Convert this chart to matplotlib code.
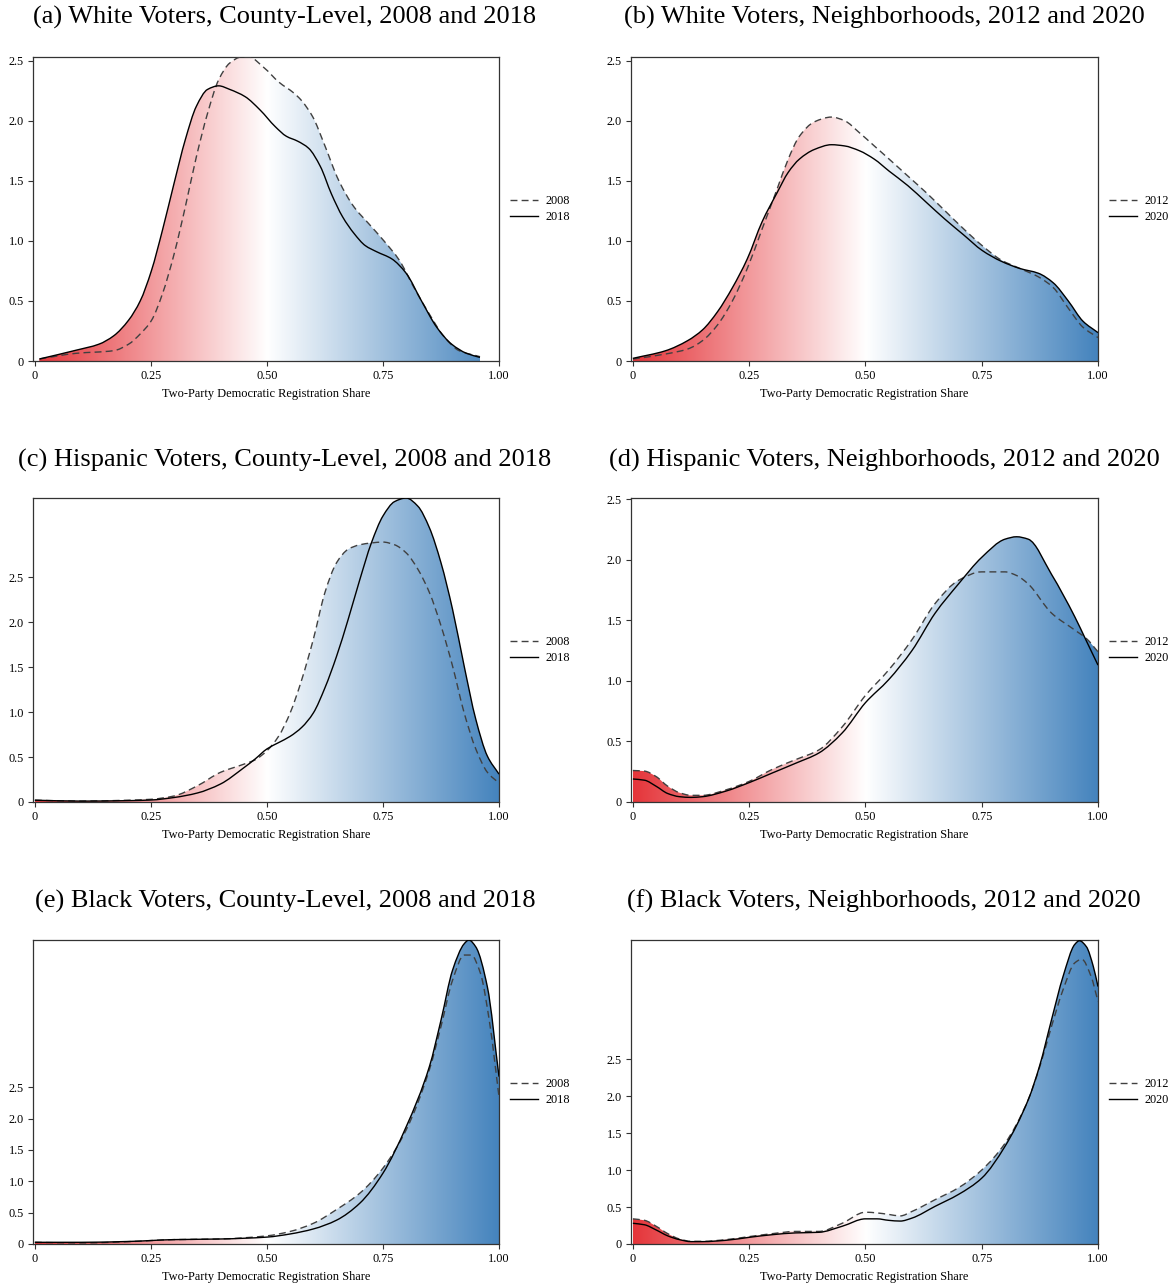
import numpy as np
import matplotlib
matplotlib.use("Agg")
import matplotlib.pyplot as plt
from matplotlib.colors import LinearSegmentedColormap
from matplotlib.path import Path
from matplotlib.patches import PathPatch
from matplotlib.lines import Line2D

plt.rcParams["font.family"] = ["Liberation Serif", "DejaVu Serif"]

### data (x = two-party Dem share, y = density)

# (a) white, county 2008 / 2018
a_x08 = [0.01, 0.089, 0.17, 0.202, 0.227, 0.251, 0.275, 0.30, 0.324, 0.348, 0.372, 0.396, 0.42, 0.445,
         0.461, 0.494, 0.526, 0.558, 0.574, 0.599, 0.623, 0.655, 0.688, 0.72, 0.752, 0.785, 0.817, 0.85,
         0.882, 0.914, 0.959]
a_y08 = [0.017, 0.064, 0.086, 0.14, 0.225, 0.336, 0.56, 0.89, 1.28, 1.70, 2.06, 2.34, 2.48, 2.53,
         2.53, 2.44, 2.32, 2.23, 2.17, 2.03, 1.81, 1.50, 1.28, 1.14, 1.00, 0.84, 0.61, 0.39,
         0.20, 0.086, 0.036]
a_x18 = [0.01, 0.089, 0.138, 0.17, 0.202, 0.227, 0.251, 0.275, 0.30, 0.324, 0.348, 0.372, 0.396, 0.42,
         0.453, 0.485, 0.518, 0.542, 0.566, 0.59, 0.615, 0.639, 0.663, 0.688, 0.712, 0.736, 0.769, 0.80,
         0.833, 0.866, 0.898, 0.93, 0.959]
a_y18 = [0.017, 0.09, 0.14, 0.21, 0.34, 0.50, 0.75, 1.09, 1.48, 1.84, 2.12, 2.26, 2.29, 2.26,
         2.20, 2.09, 1.95, 1.87, 1.83, 1.77, 1.62, 1.39, 1.20, 1.06, 0.96, 0.91, 0.85, 0.73,
         0.50, 0.28, 0.14, 0.064, 0.03]

# (b) white, neighborhoods 2012 / 2020
b_x = [0, 0.07, 0.118, 0.15, 0.182, 0.214, 0.246, 0.278, 0.31, 0.334, 0.358, 0.39, 0.427, 0.455,
       0.487, 0.519, 0.551, 0.591, 0.631, 0.671, 0.711, 0.751, 0.792, 0.832, 0.872, 0.904, 0.936,
       0.968, 1.0]
b_y12 = [0.016, 0.058, 0.10, 0.17, 0.30, 0.50, 0.77, 1.10, 1.43, 1.68, 1.87, 1.99, 2.03, 2.00,
         1.90, 1.79, 1.68, 1.54, 1.40, 1.25, 1.10, 0.96, 0.84, 0.77, 0.70, 0.61, 0.44,
         0.28, 0.195]
b_y20 = [0.022, 0.085, 0.17, 0.26, 0.41, 0.61, 0.85, 1.16, 1.40, 1.57, 1.68, 1.76, 1.80, 1.79,
         1.75, 1.68, 1.58, 1.46, 1.32, 1.18, 1.05, 0.92, 0.83, 0.77, 0.73, 0.65, 0.50,
         0.33, 0.236]

# (c) hispanic, county 2008 / 2018
c_x = [0, 0.1, 0.2, 0.25, 0.3, 0.35, 0.4, 0.45, 0.475, 0.5, 0.525, 0.55, 0.575, 0.6, 0.625, 0.65,
       0.675, 0.7, 0.725, 0.75, 0.775, 0.8, 0.825, 0.85, 0.875, 0.9, 0.925, 0.95, 0.975, 1.0]
c_y08 = [0.02, 0.01, 0.02, 0.03, 0.067, 0.18, 0.33, 0.42, 0.47, 0.57, 0.73, 0.99, 1.36, 1.81, 2.33, 2.66,
         2.81, 2.86, 2.88, 2.89, 2.86, 2.77, 2.59, 2.33, 1.96, 1.51, 0.99, 0.59, 0.33, 0.21]
c_y18 = [0.02, 0.01, 0.015, 0.022, 0.05, 0.10, 0.20, 0.38, 0.48, 0.59, 0.66, 0.73, 0.83, 0.99, 1.27, 1.62,
         2.03, 2.47, 2.88, 3.18, 3.34, 3.38, 3.29, 3.05, 2.66, 2.14, 1.51, 0.92, 0.51, 0.31]

# (d) hispanic, neighborhoods 2012 / 2020
d_x = [0, 0.025, 0.05, 0.075, 0.1, 0.125, 0.15, 0.2, 0.25, 0.3, 0.35, 0.4, 0.45, 0.5, 0.55, 0.6,
       0.65, 0.7, 0.75, 0.8, 0.825, 0.85, 0.9, 0.95, 0.975, 1.0]
d_y12 = [0.26, 0.255, 0.21, 0.13, 0.077, 0.055, 0.055, 0.10, 0.17, 0.27, 0.35, 0.43, 0.62, 0.88, 1.09, 1.34,
         1.64, 1.83, 1.90, 1.90, 1.87, 1.80, 1.56, 1.42, 1.35, 1.24]
d_y20 = [0.19, 0.18, 0.13, 0.07, 0.044, 0.038, 0.044, 0.09, 0.16, 0.24, 0.32, 0.405, 0.57, 0.82, 1.01, 1.25,
         1.56, 1.80, 2.02, 2.17, 2.19, 2.17, 1.88, 1.53, 1.33, 1.13]

# (e) black, county 2008 / 2018
e_x08 = [0, 0.1, 0.2, 0.3, 0.4, 0.5, 0.55, 0.6, 0.65, 0.7, 0.75, 0.8, 0.85, 0.875, 0.9, 0.925,
         0.94, 0.96, 0.98, 1.0]
e_y08 = [0.027, 0.016, 0.037, 0.07, 0.08, 0.13, 0.20, 0.33, 0.55, 0.81, 1.21, 1.82, 2.78, 3.47, 4.21, 4.61,
         4.61, 4.32, 3.52, 2.35]
e_x18 = [0, 0.1, 0.2, 0.3, 0.4, 0.5, 0.55, 0.6, 0.65, 0.7, 0.75, 0.8, 0.85, 0.875, 0.9, 0.925,
         0.935, 0.95, 0.975, 1.0]
e_y18 = [0.027, 0.027, 0.04, 0.07, 0.08, 0.11, 0.16, 0.24, 0.38, 0.65, 1.13, 1.87, 2.83, 3.57, 4.37, 4.79,
         4.85, 4.74, 4.10, 2.67]

# (f) black, neighborhoods 2012 / 2020
f_x12 = [0, 0.025, 0.05, 0.075, 0.1, 0.125, 0.15, 0.2, 0.25, 0.3, 0.35, 0.4, 0.45, 0.5, 0.525, 0.55,
         0.575, 0.6, 0.65, 0.7, 0.75, 0.8, 0.85, 0.875, 0.9, 0.925, 0.95, 0.965, 0.985, 1.0]
f_y12 = [0.34, 0.32, 0.24, 0.14, 0.068, 0.036, 0.036, 0.059, 0.10, 0.14, 0.17, 0.17, 0.28, 0.43, 0.42, 0.40,
         0.38, 0.44, 0.60, 0.76, 1.00, 1.36, 1.95, 2.40, 2.94, 3.44, 3.80, 3.85, 3.62, 3.28]
f_x20 = [0, 0.025, 0.05, 0.075, 0.1, 0.125, 0.15, 0.2, 0.25, 0.3, 0.35, 0.4, 0.45, 0.5, 0.525, 0.55,
         0.575, 0.6, 0.65, 0.7, 0.75, 0.8, 0.85, 0.875, 0.9, 0.925, 0.95, 0.96, 0.975, 0.99, 1.0]
f_y20 = [0.28, 0.26, 0.19, 0.11, 0.059, 0.032, 0.032, 0.05, 0.09, 0.126, 0.15, 0.158, 0.24, 0.34, 0.34, 0.32,
         0.31, 0.35, 0.51, 0.67, 0.89, 1.32, 1.95, 2.42, 3.03, 3.62, 4.05, 4.10, 4.02, 3.75, 3.48]

titles = ["(a) White Voters, County-Level, 2008 and 2018",
          "(b) White Voters, Neighborhoods, 2012 and 2020",
          "(c) Hispanic Voters, County-Level, 2008 and 2018",
          "(d) Hispanic Voters, Neighborhoods, 2012 and 2020",
          "(e) Black Voters, County-Level, 2008 and 2018",
          "(f) Black Voters, Neighborhoods, 2012 and 2020"]

panels = [
    (a_x08, a_y08, a_x18, a_y18, ("2008", "2018"), 2.53),
    (b_x, b_y12, b_x, b_y20, ("2012", "2020"), 2.53),
    (c_x, c_y08, c_x, c_y18, ("2008", "2018"), 3.38),
    (d_x, d_y12, d_x, d_y20, ("2012", "2020"), 2.51),
    (e_x08, e_y08, e_x18, e_y18, ("2008", "2018"), 4.85),
    (f_x12, f_y12, f_x20, f_y20, ("2012", "2020"), 4.11),
]

yticks = [0, 0.5, 1.0, 1.5, 2.0, 2.5]
ytick_labels = ["0", "0.5", "1.0", "1.5", "2.0", "2.5"]
xticks = [0, 0.25, 0.5, 0.75, 1.0]
xtick_labels = ["0", "0.25", "0.50", "0.75", "1.00"]

cmap = LinearSegmentedColormap.from_list("rwb", ["#e5353a", "#ffffff", "#4483bd"])
dash_col = "#404040"


def smooth_path(xs, ys, close=False):
    """bezier path through the read points (monotone hermite tangents)"""
    x = np.asarray(xs, float)
    y = np.asarray(ys, float)
    h = np.diff(x)
    d = np.diff(y) / h
    m = np.zeros_like(y)
    m[0], m[-1] = d[0], d[-1]
    for k in range(1, len(x) - 1):
        if d[k - 1] * d[k] > 0:
            w1 = 2 * h[k] + h[k - 1]
            w2 = h[k] + 2 * h[k - 1]
            m[k] = (w1 + w2) / (w1 / d[k - 1] + w2 / d[k])
    verts = [(x[0], y[0])]
    codes = [Path.MOVETO]
    for k in range(len(x) - 1):
        verts += [(x[k] + h[k] / 3, y[k] + m[k] * h[k] / 3),
                  (x[k + 1] - h[k] / 3, y[k + 1] - m[k + 1] * h[k] / 3),
                  (x[k + 1], y[k + 1])]
        codes += [Path.CURVE4] * 3
    if close:
        verts += [(x[-1], 0), (x[0], 0), (x[0], y[0])]
        codes += [Path.LINETO, Path.LINETO, Path.CLOSEPOLY]
    return Path(verts, codes)


W, H = 1175, 1285
fig = plt.figure(figsize=(W / 100, H / 100), dpi=100)

# axes boxes in pixels: left, top, width, height
col_left = [33, 631]
col_w = [466, 467]
row_top = [57, 498, 940]
title_y = [17, 460, 901]
title_x = [285, 884]
ax_h = 304

for i, (x1, y1, x2, y2, labs, ytop) in enumerate(panels):
    r, c = divmod(i, 2)
    ax = fig.add_axes([col_left[c] / W, (H - row_top[r] - ax_h) / H, col_w[c] / W, ax_h / H])
    ax.set_xlim(-0.004, 1.0)
    ax.set_ylim(0, ytop)

    # gradient fill under both curves
    grad = np.linspace(0, 1, 256).reshape(1, -1)
    for xs, ys in [(x1, y1), (x2, y2)]:
        clip = PathPatch(smooth_path(xs, ys, close=True), facecolor="none", edgecolor="none")
        ax.add_patch(clip)
        im = ax.imshow(grad, extent=[0, 1, 0, ytop], aspect="auto", cmap=cmap,
                       origin="lower", interpolation="bilinear", zorder=1)
        im.set_clip_path(clip)

    ax.add_patch(PathPatch(smooth_path(x1, y1), facecolor="none", edgecolor=dash_col,
                           lw=1.0, ls=(0, (5, 3)), zorder=3))
    ax.add_patch(PathPatch(smooth_path(x2, y2), facecolor="none", edgecolor="black",
                           lw=1.0, zorder=3))

    ax.set_xticks(xticks)
    ax.set_xticklabels(xtick_labels)
    ax.set_yticks(yticks)
    ax.set_yticklabels(ytick_labels)
    ax.tick_params(labelsize=8.8, length=3.5, width=0.8, color="#333333", pad=3)
    for s in ax.spines.values():
        s.set_linewidth(0.9)
        s.set_color("#333333")
    ax.set_xlabel("Two-Party Democratic Registration Share", fontsize=8.9, labelpad=4)

    handles = [Line2D([], [], color=dash_col, lw=1.0, ls=(0, (5, 3))),
               Line2D([], [], color="black", lw=1.0)]
    ax.legend(handles, labs, loc="center left", bbox_to_anchor=(1.01, 0.5), frameon=False,
              fontsize=8.8, handlelength=2.3, handletextpad=0.6, labelspacing=0.35, borderaxespad=0.1)

    fig.text(title_x[c] / W, 1 - title_y[r] / H, titles[i], fontsize=19, ha="center", va="center")

fig.savefig("out.png", dpi=100)
